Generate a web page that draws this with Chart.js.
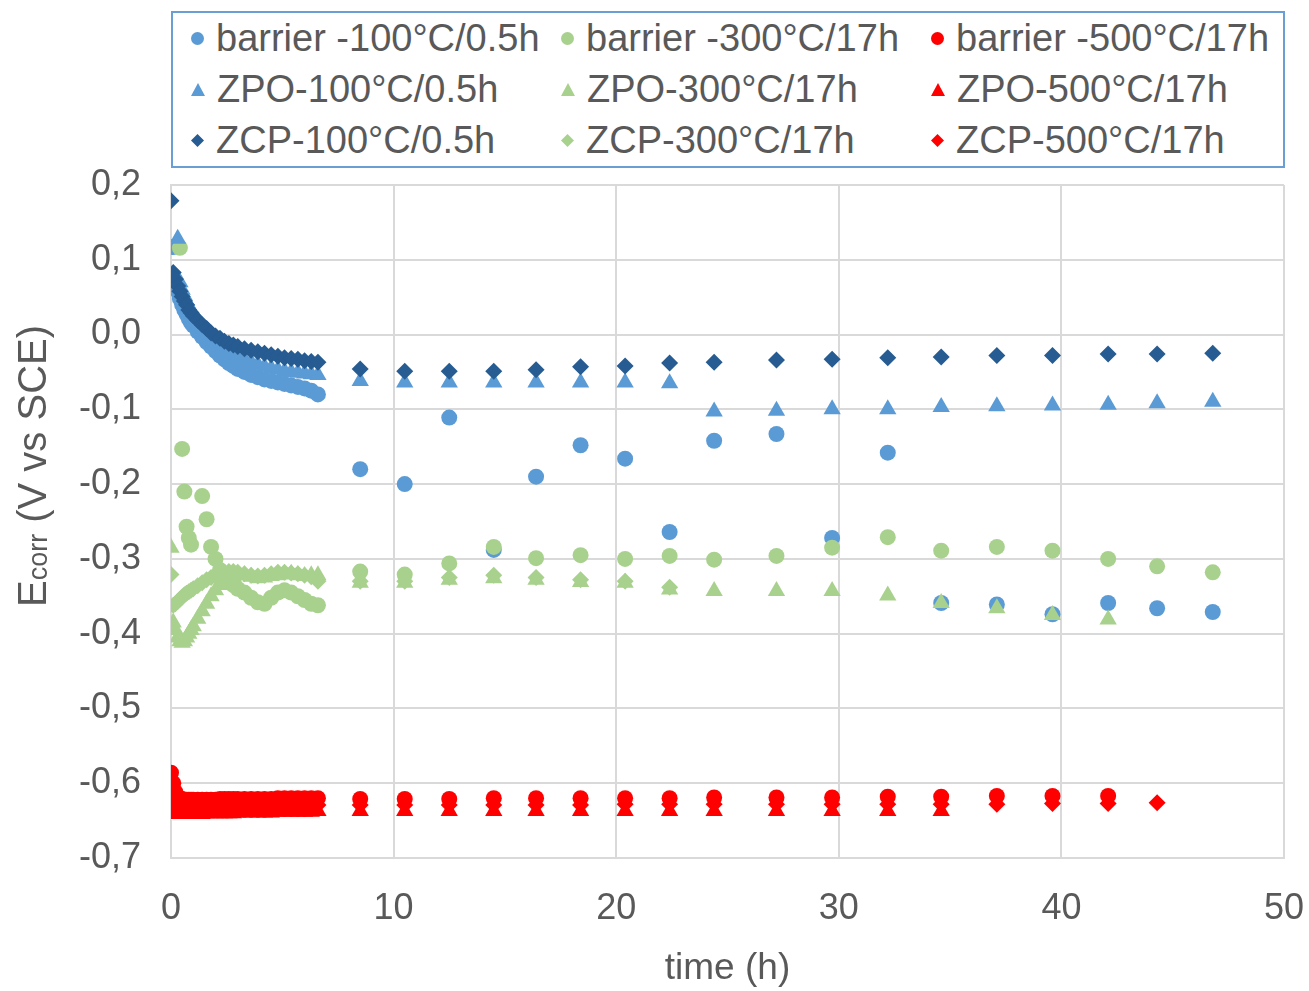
<!DOCTYPE html>
<html>
<head>
<meta charset="utf-8">
<title>Ecorr vs time</title>
<script src="https://cdn.jsdelivr.net/npm/chart.js@4.4.1/dist/chart.umd.min.js"></script>
<style>
    body { margin: 0; background: #ffffff; }
    #wrap {
        position: relative;
        width: 1309px;
        height: 991px;
        font-family: "Liberation Sans", Arial, sans-serif;
    }
    #chart { position: absolute; left: 0; top: 0; }
    #legend {
        position: absolute;
        left: 171px;
        top: 11px;
        width: 1110px;
        height: 153px;
        border: 2px solid #6a9fd6;
        background: #ffffff;
        display: grid;
        grid-template-columns: repeat(3, 370px);
        grid-template-rows: repeat(3, 51px);
    }
    .item {
        display: flex;
        align-items: center;
        padding-left: 18px;
        font-size: 38px;
        color: #595959;
        white-space: nowrap;
    }
    .mk { width: 13px; height: 13px; margin-right: 12px; flex: none; }
</style>
</head>
<body>
<div id="wrap">
    <canvas id="chart" width="1309" height="991"></canvas>
    <div id="legend"></div>
</div>
<script>
// -----------------------------
// Measurement times (h): dense start of the run, then roughly every 2 h
// -----------------------------
const timeH = [
    0, 0.1, 0.2, 0.3, 0.4, 0.5, 0.6, 0.7, 0.8, 0.9, 1.0, 1.2, 1.4, 1.6, 1.8, 2.0,
    2.2, 2.4, 2.6, 2.8, 3.0, 3.3, 3.6, 3.9, 4.2, 4.5, 4.8, 5.1, 5.4, 5.7, 6.0, 6.3, 6.6,
    8.5, 10.5, 12.5, 14.5, 16.4, 18.4, 20.4, 22.4, 24.4, 27.2, 29.7, 32.2, 34.6, 37.1, 39.6, 42.1, 44.3, 46.8
];

// -----------------------------
// Ecorr (V vs SCE) per sample, null = no reading
// -----------------------------
const barrier100 = [
    null, 0.117, 0.072, 0.058, 0.048, 0.040, 0.033, 0.027, 0.021, 0.016, 0.012, 0.004, -0.003, -0.010, -0.016, -0.022,
    -0.028, -0.033, -0.038, -0.042, -0.046, -0.050, -0.054, -0.057, -0.060, -0.062, -0.064, -0.066, -0.068, -0.070, -0.072, -0.075, -0.080,
    -0.180, -0.200, -0.111, -0.288, -0.190, -0.148, -0.166, -0.264, -0.142, -0.133, -0.272, -0.158, -0.359, -0.361, -0.374, -0.359, -0.366, -0.371
];
const barrier300 = [
    null, null, null, null, 0.116, -0.153, -0.210, -0.257, -0.272, -0.281, null, null, -0.216, -0.247, -0.284, -0.300,
    -0.315, -0.325, -0.330, -0.335, -0.340, -0.345, -0.352, -0.358, -0.360, -0.352, -0.345, -0.342, -0.345, -0.350, -0.355, -0.360, -0.362,
    -0.317, -0.321, -0.306, -0.284, -0.299, -0.295, -0.300, -0.296, -0.301, -0.296, -0.285, -0.271, -0.289, -0.284, -0.289, -0.300, -0.310, -0.318
];
const barrier500 = [
    -0.586, -0.600, -0.612, -0.618, -0.620, -0.621, -0.622, -0.622, -0.622, -0.622, -0.622, -0.622, -0.622, -0.622, -0.622, -0.622,
    -0.621, -0.621, -0.621, -0.621, -0.621, -0.621, -0.621, -0.621, -0.621, -0.621, -0.620, -0.620, -0.620, -0.620, -0.620, -0.620, -0.620,
    -0.621, -0.621, -0.621, -0.620, -0.620, -0.620, -0.620, -0.620, -0.619, -0.619, -0.619, -0.618, -0.618, -0.617, -0.617, -0.617, null, null
];
const zpo100 = [
    null, null, null, 0.128, 0.070, 0.060, 0.052, 0.045, 0.038, 0.033, 0.028, 0.019, 0.011, 0.004, -0.002, -0.008,
    -0.013, -0.018, -0.022, -0.026, -0.029, -0.033, -0.037, -0.040, -0.043, -0.045, -0.047, -0.049, -0.050, -0.051, -0.052, -0.053, -0.054,
    -0.062, -0.064, -0.064, -0.064, -0.064, -0.064, -0.064, -0.065, -0.103, -0.102, -0.100, -0.100, -0.097, -0.096, -0.095, -0.094, -0.092, -0.090
];
const zpo300 = [
    -0.285, -0.385, -0.395, -0.405, -0.410, -0.412, -0.410, -0.405, -0.400, -0.395, -0.390, -0.380, -0.370, -0.360, -0.350, -0.342,
    -0.335, -0.330, -0.326, -0.324, -0.322, -0.322, -0.324, -0.326, -0.325, -0.323, -0.322, -0.321, -0.320, -0.322, -0.323, -0.322, -0.322,
    -0.332, -0.332, -0.328, -0.326, -0.328, -0.331, -0.332, -0.341, -0.343, -0.343, -0.343, -0.349, -0.359, -0.366, -0.375, -0.381, null, null
];
const zpo500 = [
    -0.636, -0.639, -0.640, -0.641, -0.641, -0.641, -0.641, -0.641, -0.641, -0.641, -0.641, -0.641, -0.641, -0.640, -0.640, -0.640,
    -0.640, -0.640, -0.640, -0.640, -0.639, -0.639, -0.639, -0.639, -0.639, -0.639, -0.638, -0.638, -0.638, -0.638, -0.638, -0.638, -0.637,
    -0.637, -0.637, -0.637, -0.637, -0.637, -0.637, -0.637, -0.637, -0.637, -0.637, -0.637, -0.637, -0.637, null, null, null, null, null
];
const zcp100 = [
    0.179, 0.083, 0.074, 0.065, 0.058, 0.051, 0.045, 0.040, 0.033, 0.029, 0.025, 0.019, 0.013, 0.008, 0.002, -0.002,
    -0.005, -0.009, -0.012, -0.014, -0.016, -0.019, -0.021, -0.023, -0.025, -0.027, -0.029, -0.031, -0.032, -0.033, -0.035, -0.036, -0.037,
    -0.046, -0.049, -0.049, -0.049, -0.047, -0.043, -0.042, -0.038, -0.037, -0.034, -0.033, -0.031, -0.030, -0.028, -0.028, -0.026, -0.026, -0.025
];
const zcp300 = [
    -0.321, -0.362, -0.360, -0.357, -0.354, -0.351, -0.348, -0.346, -0.344, -0.342, -0.340, -0.336, -0.332, -0.328, -0.325, -0.322,
    -0.320, -0.318, -0.317, -0.317, -0.318, -0.320, -0.322, -0.323, -0.322, -0.320, -0.318, -0.318, -0.319, -0.320, -0.322, -0.324, -0.330,
    -0.330, -0.330, -0.325, -0.322, -0.325, -0.328, -0.330, -0.338, null, null, null, null, null, null, null, null, null, null
];
const zcp500 = [
    -0.603, -0.620, -0.628, -0.631, -0.632, -0.632, -0.632, -0.632, -0.632, -0.632, -0.632, -0.632, -0.631, -0.631, -0.631, -0.631,
    -0.631, -0.631, -0.630, -0.630, -0.630, -0.630, -0.630, -0.630, -0.630, -0.630, -0.629, -0.629, -0.629, -0.629, -0.629, -0.629, -0.629,
    -0.629, -0.629, -0.629, -0.629, -0.629, -0.629, -0.628, -0.628, -0.628, -0.628, -0.628, -0.628, -0.628, -0.628, -0.627, -0.627, -0.626, null
];

// -----------------------------
// Axis ticks
// -----------------------------
const xTicks = [0, 10, 20, 30, 40, 50];
const yTicks = [-0.7, -0.6, -0.5, -0.4, -0.3, -0.2, -0.1, 0.0, 0.1, 0.2];

// -----------------------------
// Theme
// -----------------------------
const fontFamily = '"Liberation Sans", Arial, sans-serif';
const textColor = '#595959';
const gridColor = '#d9d9d9';
const blue = '#5b9bd5';
const navy = '#265c91';
const green = '#a9d18e';
const red = '#ff0000';

// Series in legend order (row by row); later ones draw on top
const series = [
    {label: 'barrier -100°C/0.5h', values: barrier100, color: blue, style: 'circle'},
    {label: 'barrier -300°C/17h', values: barrier300, color: green, style: 'circle'},
    {label: 'barrier -500°C/17h', values: barrier500, color: red, style: 'circle'},
    {label: 'ZPO-100°C/0.5h', values: zpo100, color: blue, style: 'triangle'},
    {label: 'ZPO-300°C/17h', values: zpo300, color: green, style: 'triangle'},
    {label: 'ZPO-500°C/17h', values: zpo500, color: red, style: 'triangle'},
    {label: 'ZCP-100°C/0.5h', values: zcp100, color: navy, style: 'rectRot'},
    {label: 'ZCP-300°C/17h', values: zcp300, color: green, style: 'rectRot'},
    {label: 'ZCP-500°C/17h', values: zcp500, color: red, style: 'rectRot'}
];
const markerRadius = {circle: 8, triangle: 10, rectRot: 8.5};

function toPoints(values) {
    const pts = [];
    values.forEach((v, i) => {
        if (v !== null) pts.push({x: timeH[i], y: v});
    });
    return pts;
}

const datasets = series.map((s, i) => ({
    label: s.label,
    data: toPoints(s.values),
    pointStyle: s.style,
    pointRadius: markerRadius[s.style],
    pointHoverRadius: markerRadius[s.style],
    backgroundColor: s.color,
    borderColor: s.color,
    borderWidth: 0,
    showLine: false,
    order: series.length - i
}));

// -----------------------------
// Rotated y title with subscript "corr"
// -----------------------------
const yTitlePlugin = {
    id: 'yTitle',
    afterDraw(chart) {
        const ctx = chart.ctx;
        const bigFont = '40px ' + fontFamily;
        const subFont = '27px ' + fontFamily;
        ctx.save();
        ctx.fillStyle = textColor;
        ctx.textBaseline = 'alphabetic';
        ctx.textAlign = 'left';
        ctx.font = bigFont;
        const wE = ctx.measureText('E').width;
        const wRest = ctx.measureText(' (V vs SCE)').width;
        ctx.font = subFont;
        const wSub = ctx.measureText('corr').width;
        const total = wE + wSub + wRest;
        ctx.translate(46, 466);
        ctx.rotate(-Math.PI / 2);
        let x = -total / 2;
        ctx.font = bigFont;
        ctx.fillText('E', x, 0);
        x += wE;
        ctx.font = subFont;
        ctx.fillText('corr', x, 1);
        x += wSub;
        ctx.font = bigFont;
        ctx.fillText(' (V vs SCE)', x, 0);
        ctx.restore();
    }
};

const ctx = document.getElementById('chart');
const chart = new Chart(ctx, {
    type: 'scatter',
    data: {datasets},
    options: {
        responsive: false,
        animation: false,
        devicePixelRatio: 1,
        layout: {padding: {top: 185, right: 25, bottom: 0, left: 0}},
        plugins: {
            legend: {display: false},
            tooltip: {enabled: false}
        },
        scales: {
            x: {
                type: 'linear',
                min: xTicks[0],
                max: xTicks[xTicks.length - 1],
                afterBuildTicks: scale => { scale.ticks = xTicks.map(v => ({value: v})); },
                afterFit: scale => {
                    scale.height = 133;
                    // the "50" label may overhang into the right margin
                    scale.paddingLeft = 0;
                    scale.paddingRight = 0;
                },
                ticks: {
                    color: textColor,
                    font: {family: fontFamily, size: 36},
                    padding: 29,
                    maxRotation: 0
                },
                grid: {color: gridColor, lineWidth: 2, drawTicks: false},
                border: {color: gridColor, width: 2},
                title: {
                    display: true,
                    text: 'time (h)',
                    color: textColor,
                    font: {family: fontFamily, size: 37},
                    padding: {top: 0, bottom: 0}
                }
            },
            y: {
                type: 'linear',
                min: yTicks[0],
                max: yTicks[yTicks.length - 1],
                afterBuildTicks: scale => { scale.ticks = yTicks.map(v => ({value: v})); },
                afterFit: scale => { scale.width = 171; },
                ticks: {
                    color: textColor,
                    font: {family: fontFamily, size: 36},
                    padding: 30,
                    callback: v => (Math.abs(v) < 1e-9 ? 0 : v).toFixed(1).replace('.', ',')
                },
                grid: {color: gridColor, lineWidth: 2, drawTicks: false},
                border: {color: gridColor, width: 2}
            }
        }
    },
    plugins: [yTitlePlugin]
});

// -----------------------------
// HTML legend: three columns, boxed
// -----------------------------
const clipShapes = {
    circle: 'circle(50% at 50% 50%)',
    triangle: 'polygon(50% 0%, 100% 100%, 0% 100%)',
    rectRot: 'polygon(50% 0%, 100% 50%, 50% 100%, 0% 50%)'
};
const legendBox = document.getElementById('legend');
chart.data.datasets.forEach(ds => {
    const item = document.createElement('div');
    item.className = 'item';
    const mk = document.createElement('span');
    mk.className = 'mk';
    mk.style.background = ds.backgroundColor;
    mk.style.clipPath = clipShapes[ds.pointStyle];
    if (ds.pointStyle === 'triangle') { mk.style.width = '14px'; }
    const txt = document.createElement('span');
    txt.textContent = ds.label;
    item.appendChild(mk);
    item.appendChild(txt);
    legendBox.appendChild(item);
});
</script>
</body>
</html>
